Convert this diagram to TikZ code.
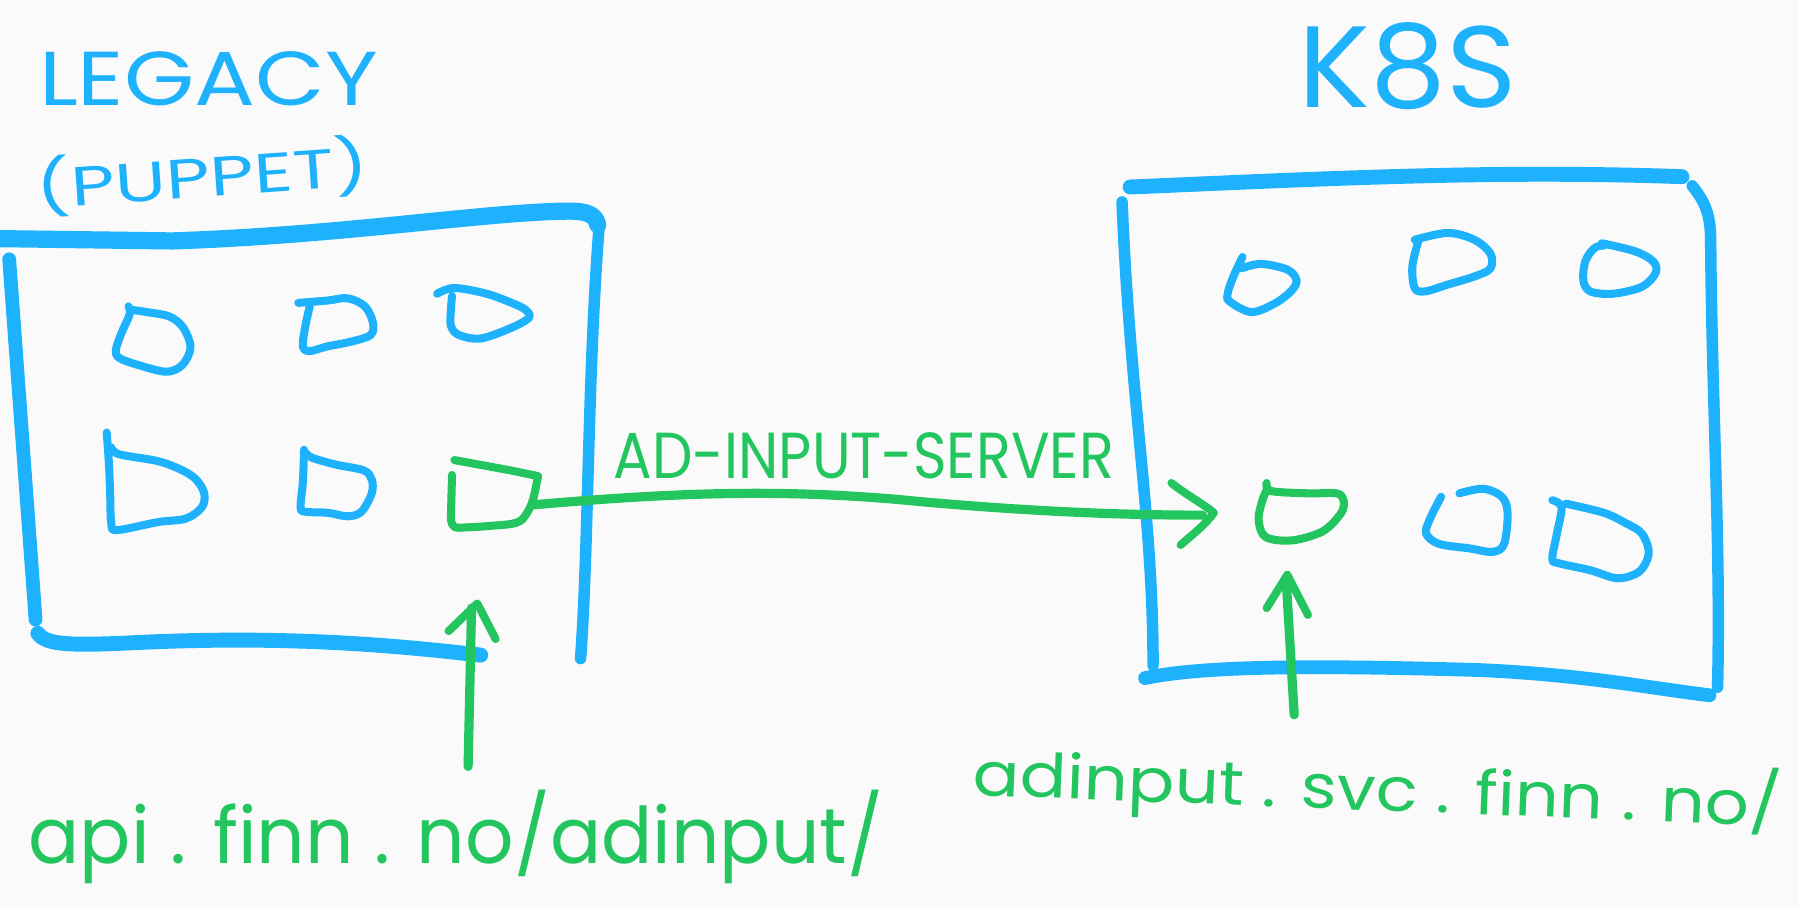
\documentclass[tikz,border=0pt]{standalone}
\usepackage{fontspec}
\setmainfont{Poppins}
\usepackage{graphicx}
\definecolor{sketchblue}{RGB}{31,178,252}
\definecolor{sketchgreen}{RGB}{34,197,94}
\definecolor{paper}{RGB}{250,250,250}
\tikzset{
  bl/.style={draw=sketchblue, line cap=round, line join=round},
  gr/.style={draw=sketchgreen, line cap=round, line join=round},
  frame/.style={bl, line width=15pt},
  frameside/.style={bl, line width=10pt},
  pod/.style={bl, line width=7pt},
  gpod/.style={gr, line width=7pt},
  conn/.style={gr, line width=8pt},
  tip/.style={gr, line width=7pt},
  lbl/.style={inner sep=0pt, outer sep=0pt, anchor=base west},
}
\begin{document}
\begin{tikzpicture}[x=1pt,y=-1pt]
\fill[paper] (0,0) rectangle (1568,791);
\useasboundingbox (0,0) rectangle (1568,791);

% titles
\node[lbl, text=sketchblue] (legacy) at (34,92) {\resizebox{295pt}{47pt}{LEGACY}};
\node[lbl, text=sketchblue, rotate=4] (puppet) at (33,182) {\resizebox{290pt}{45pt}{(PUPPET)}};
\node[lbl, text=sketchblue] (k8s) at (1132,94) {\resizebox{190pt}{74pt}{K8S}};

% legacy box
\draw[frame] (0,208) -- (150,210) .. controls (300,205) and (420,185) .. (495,184) .. controls (512,184) and (519,187) .. (521,196);
\draw[frameside] (522,200) .. controls (512,330) and (513,480) .. (506,574);
\draw[frame, line width=12pt] (8,226) -- (31,540);
\draw[frame, line width=13pt] (33,552) .. controls (40,562) and (60,563) .. (120,560) .. controls (250,554) and (340,562) .. (419,571);

% k8s box
\draw[frame, line width=13pt] (985,163) .. controls (1150,156) and (1300,148) .. (1466,154);
\draw[frameside] (1475,162) .. controls (1485,175) and (1491,185) .. (1491,210) .. controls (1492,350) and (1500,480) .. (1497,599);
\draw[frameside, line width=10pt] (978,176) .. controls (985,350) and (1005,450) .. (1005,580);
\draw[frame, line width=12pt] (998,591) .. controls (1050,580) and (1150,580) .. (1289,584) .. controls (1380,588) and (1440,600) .. (1490,606);

% legacy pods
\draw[pod] plot[smooth, tension=0.55] coordinates {(112,267) (113,274) (106,290) (101,305) (104,312) (120,318) (145,324) (159,318) (166,303) (160,286) (148,276) (128,272) (114,270)};
\draw[pod] plot[smooth, tension=0.55] coordinates {(260,264) (285,262) (303,260) (318,267) (325,281) (323,292) (305,298) (285,302) (270,306) (264,302) (266,285) (270,267)};
\draw[pod] plot[smooth, tension=0.55] coordinates {(381,256) (396,251) (424,256) (446,264) (458,270) (461,277) (445,286) (419,295) (400,292) (393,284) (393,270) (394,258)};
\draw[pod] plot[smooth, tension=0.55] coordinates {(93,377) (95,405) (96,430) (97,456) (102,462) (138,455) (162,452) (176,442) (178,430) (171,418) (159,410) (138,402) (104,396) (97,390)};
\draw[pod] plot[smooth, tension=0.55] coordinates {(265,392) (264,420) (262,442) (266,446) (286,447) (303,450) (315,446) (324,430) (324,418) (317,410) (293,405) (272,399) (267,395)};
\draw[gpod] (396,401) -- (445,410) -- (469,415) .. controls (466,428) and (466,440) .. (455,453) .. controls (448,458) and (440,457) .. (420,459) -- (400,460) .. controls (394,460) and (393,456) .. (393,450) -- (394,414);

% k8s pods
\draw[pod] plot[smooth, tension=0.55] coordinates {(1083,224) (1075,241) (1070,256) (1072,263) (1091,272) (1112,264) (1126,253) (1130,244) (1122,235) (1099,230) (1082,234)};
\draw[pod] plot[smooth, tension=0.55] coordinates {(1233,209) (1262,203) (1285,209) (1299,221) (1299,234) (1285,241) (1262,248) (1242,254) (1233,251) (1231,232) (1236,211)};
\draw[pod] plot[smooth, tension=0.55] coordinates {(1396,212) (1425,219) (1441,228) (1443,238) (1431,250) (1406,256) (1386,254) (1380,244) (1382,227) (1390,216) (1398,214)};
\draw[gpod] plot[smooth, tension=0.55] coordinates {(1104,421) (1108,428) (1141,430) (1165,430) (1171,436) (1169,447) (1153,463) (1126,471) (1103,468) (1097,453) (1100,437) (1104,427)};
\draw[pod] plot[smooth, tension=0.55] coordinates {(1256,433) (1246,453) (1243,465) (1254,474) (1281,478) (1301,481) (1311,474) (1314,447) (1309,433) (1293,426) (1272,430)};
\draw[pod] plot[smooth, tension=0.55] coordinates {(1353,436) (1361,442) (1357,465) (1353,487) (1359,491) (1386,497) (1410,504) (1429,498) (1437,482) (1431,465) (1417,456) (1398,447) (1365,439)};

% connector endpoints
\coordinate (legacyout) at (465,440);
\coordinate (k8sin) at (1048,449);
\coordinate (apitail) at (408,668);
\coordinate (apihead) at (411,530);
\coordinate (svctail) at (1128,623);
\coordinate (svchead) at (1121,505);

% ad-input-server arrow
\draw[conn] (legacyout) .. controls (580,430) and (680,425) .. (800,437) .. controls (900,446) and (980,449) .. (k8sin);
\draw[tip] (1021,421) .. controls (1035,432) and (1050,440) .. (1058,447) .. controls (1050,458) and (1038,467) .. (1029,475);
\node[lbl, text=sketchgreen] (svcname) at (535,417) {\resizebox{436pt}{40pt}{AD-INPUT-SERVER}};

% api arrow
\draw[conn] (apitail) -- (apihead);
\draw[tip] (391,550) -- (416,526) -- (432,557);
\node[lbl, text=sketchgreen] (apiurl) at (25,753) {\resizebox{745pt}{64pt}{api . finn . no/adinput/}};

% svc arrow
\draw[conn] (svctail) -- (svchead);
\draw[tip] (1104,530) -- (1122,501) -- (1140,536);
\node[lbl, text=sketchgreen, rotate=-2.2] (svcurl) at (848,693) {\resizebox{705pt}{50pt}{adinput . svc . finn . no/}};
\end{tikzpicture}
\end{document}
